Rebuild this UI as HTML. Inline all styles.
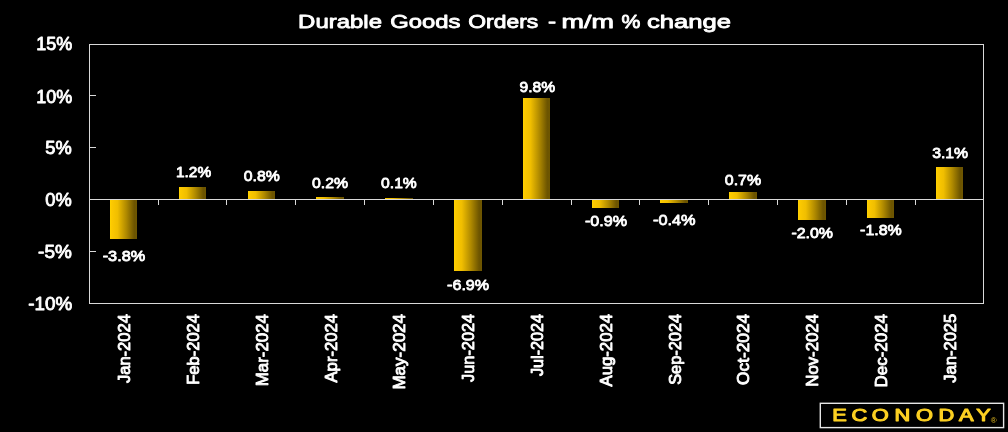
<!DOCTYPE html>
<html lang="en">
<head>
<meta charset="utf-8">
<title>Durable Goods Orders - m/m % change</title>
<style>
html,body{margin:0;padding:0;background:#000;}
body{width:1008px;height:432px;overflow:hidden;}
svg{display:block;}
text{font-family:"Liberation Sans",sans-serif;font-weight:normal;fill:#fff;stroke:#fff;stroke-width:0.85px;stroke-linejoin:round;}
.ax{stroke:#d9d9d9;stroke-width:1;fill:none;shape-rendering:crispEdges;}
.t{font-size:19px;}
.y{font-size:18.1px;}
.d{font-size:15.3px;}
.m{font-size:15.8px;}
.logo{font-size:15.8px;fill:#fcd022;font-weight:normal;stroke:#fcd022;stroke-width:1.2px;vector-effect:non-scaling-stroke;}
</style>
</head>
<body>
<svg width="1008" height="432" viewBox="0 0 1008 432">
<defs><linearGradient id="g" x1="0" y1="0" x2="1" y2="0"><stop offset="0" stop-color="#ffd400"/><stop offset="0.05" stop-color="#fdca00"/><stop offset="0.28" stop-color="#f0be00"/><stop offset="0.6" stop-color="#b08a00"/><stop offset="0.9" stop-color="#6c5400"/><stop offset="1" stop-color="#6e5600"/></linearGradient></defs>
<rect x="0" y="0" width="1008" height="432" fill="#000"/>
<rect x="110" y="200" width="27" height="39" fill="url(#g)"/>
<rect x="179" y="187" width="27" height="12" fill="url(#g)"/>
<rect x="248" y="191" width="27" height="8" fill="url(#g)"/>
<rect x="316" y="197" width="28" height="2" fill="url(#g)"/>
<rect x="385" y="198" width="28" height="1" fill="url(#g)"/>
<rect x="454" y="200" width="28" height="71" fill="url(#g)"/>
<rect x="523" y="98" width="27" height="101" fill="url(#g)"/>
<rect x="592" y="200" width="27" height="8" fill="url(#g)"/>
<rect x="660" y="200" width="28" height="3" fill="url(#g)"/>
<rect x="729" y="192" width="28" height="7" fill="url(#g)"/>
<rect x="798" y="200" width="28" height="20" fill="url(#g)"/>
<rect x="867" y="200" width="27" height="18" fill="url(#g)"/>
<rect x="936" y="167" width="27" height="32" fill="url(#g)"/>
<g fill="#d9d9d9" shape-rendering="crispEdges">
<rect x="89" y="44" width="895" height="1"/><rect x="89" y="303" width="895" height="1"/><rect x="89" y="44" width="1" height="260"/><rect x="983" y="44" width="1" height="260"/><rect x="89" y="199" width="895" height="1"/>
<rect x="158" y="199" width="1" height="6"/>
<rect x="226" y="199" width="1" height="6"/>
<rect x="295" y="199" width="1" height="6"/>
<rect x="364" y="199" width="1" height="6"/>
<rect x="433" y="199" width="1" height="6"/>
<rect x="502" y="199" width="1" height="6"/>
<rect x="571" y="199" width="1" height="6"/>
<rect x="639" y="199" width="1" height="6"/>
<rect x="708" y="199" width="1" height="6"/>
<rect x="777" y="199" width="1" height="6"/>
<rect x="846" y="199" width="1" height="6"/>
<rect x="915" y="199" width="1" height="6"/>
<rect x="89" y="95" width="7" height="1"/>
<rect x="89" y="147" width="7" height="1"/>
<rect x="89" y="251" width="7" height="1"/>
</g>
<text class="t" x="298.1" y="28" textLength="83.9" lengthAdjust="spacingAndGlyphs">Durable</text>
<text class="t" x="390.2" y="28" textLength="70.2" lengthAdjust="spacingAndGlyphs">Goods</text>
<text class="t" x="468.3" y="28" textLength="69.9" lengthAdjust="spacingAndGlyphs">Orders</text>
<text class="t" x="548.1" y="28" textLength="8.1" lengthAdjust="spacingAndGlyphs">-</text>
<text class="t" x="561.6" y="28" textLength="52.4" lengthAdjust="spacingAndGlyphs">m/m</text>
<text class="t" x="621.5" y="28" textLength="18.9" lengthAdjust="spacingAndGlyphs">%</text>
<text class="t" x="646.9" y="28" textLength="84.0" lengthAdjust="spacingAndGlyphs">change</text>
<text class="y" x="36.3" y="50.0" textLength="35.9" lengthAdjust="spacingAndGlyphs">15%</text>
<text class="y" x="36.3" y="103.0" textLength="35.9" lengthAdjust="spacingAndGlyphs">10%</text>
<text class="y" x="45.3" y="154.0" textLength="26.4" lengthAdjust="spacingAndGlyphs">5%</text>
<text class="y" x="45.3" y="206.0" textLength="26.4" lengthAdjust="spacingAndGlyphs">0%</text>
<text class="y" x="38.1" y="258.0" textLength="33.7" lengthAdjust="spacingAndGlyphs">-5%</text>
<text class="y" x="28.3" y="310.0" textLength="43.9" lengthAdjust="spacingAndGlyphs">-10%</text>
<text class="d" x="102.7" y="261" textLength="42.5" lengthAdjust="spacingAndGlyphs">-3.8%</text>
<text class="d" x="176.0" y="177" textLength="35.1" lengthAdjust="spacingAndGlyphs">1.2%</text>
<text class="d" x="243.8" y="181" textLength="36.0" lengthAdjust="spacingAndGlyphs">0.8%</text>
<text class="d" x="312.0" y="188" textLength="36.0" lengthAdjust="spacingAndGlyphs">0.2%</text>
<text class="d" x="381.1" y="188" textLength="35.7" lengthAdjust="spacingAndGlyphs">0.1%</text>
<text class="d" x="447.1" y="290" textLength="42.0" lengthAdjust="spacingAndGlyphs">-6.9%</text>
<text class="d" x="519.6" y="92" textLength="35.6" lengthAdjust="spacingAndGlyphs">9.8%</text>
<text class="d" x="584.9" y="226" textLength="42.1" lengthAdjust="spacingAndGlyphs">-0.9%</text>
<text class="d" x="653.0" y="225" textLength="42.6" lengthAdjust="spacingAndGlyphs">-0.4%</text>
<text class="d" x="724.8" y="185" textLength="36.3" lengthAdjust="spacingAndGlyphs">0.7%</text>
<text class="d" x="791.4" y="238" textLength="41.6" lengthAdjust="spacingAndGlyphs">-2.0%</text>
<text class="d" x="860.1" y="235" textLength="41.7" lengthAdjust="spacingAndGlyphs">-1.8%</text>
<text class="d" x="932.2" y="158" textLength="35.9" lengthAdjust="spacingAndGlyphs">3.1%</text>
<text class="m" transform="translate(130 383.1) rotate(-90)" textLength="69.0" lengthAdjust="spacingAndGlyphs">Jan-2024</text>
<text class="m" transform="translate(199 384.7) rotate(-90)" textLength="70.6" lengthAdjust="spacingAndGlyphs">Feb-2024</text>
<text class="m" transform="translate(268 386.2) rotate(-90)" textLength="72.2" lengthAdjust="spacingAndGlyphs">Mar-2024</text>
<text class="m" transform="translate(337 382.5) rotate(-90)" textLength="68.6" lengthAdjust="spacingAndGlyphs">Apr-2024</text>
<text class="m" transform="translate(405 389.6) rotate(-90)" textLength="75.6" lengthAdjust="spacingAndGlyphs">May-2024</text>
<text class="m" transform="translate(474 381.9) rotate(-90)" textLength="68.0" lengthAdjust="spacingAndGlyphs">Jun-2024</text>
<text class="m" transform="translate(543 376.0) rotate(-90)" textLength="62.1" lengthAdjust="spacingAndGlyphs">Jul-2024</text>
<text class="m" transform="translate(612 386.5) rotate(-90)" textLength="72.6" lengthAdjust="spacingAndGlyphs">Aug-2024</text>
<text class="m" transform="translate(681 384.8) rotate(-90)" textLength="70.9" lengthAdjust="spacingAndGlyphs">Sep-2024</text>
<text class="m" transform="translate(749 384.9) rotate(-90)" textLength="71.0" lengthAdjust="spacingAndGlyphs">Oct-2024</text>
<text class="m" transform="translate(818 386.7) rotate(-90)" textLength="72.7" lengthAdjust="spacingAndGlyphs">Nov-2024</text>
<text class="m" transform="translate(887 387.4) rotate(-90)" textLength="73.4" lengthAdjust="spacingAndGlyphs">Dec-2024</text>
<text class="m" transform="translate(956 382.8) rotate(-90)" textLength="69.1" lengthAdjust="spacingAndGlyphs">Jan-2025</text>
<rect x="820.3" y="403.3" width="183.3" height="24.3" fill="#000" stroke="#e6e6e6" stroke-width="1.4"/>
<text class="logo" transform="translate(0 421) scale(1.38 1)" x="603.05 616.95 631.72 648.20 663.79 680.11 695.02 707.52" y="0">ECONODAY</text>
<text x="990.8" y="423.2" style="font-size:8px;fill:#e8bf20;font-weight:normal;stroke:none">®</text>
</svg>
</body>
</html>
